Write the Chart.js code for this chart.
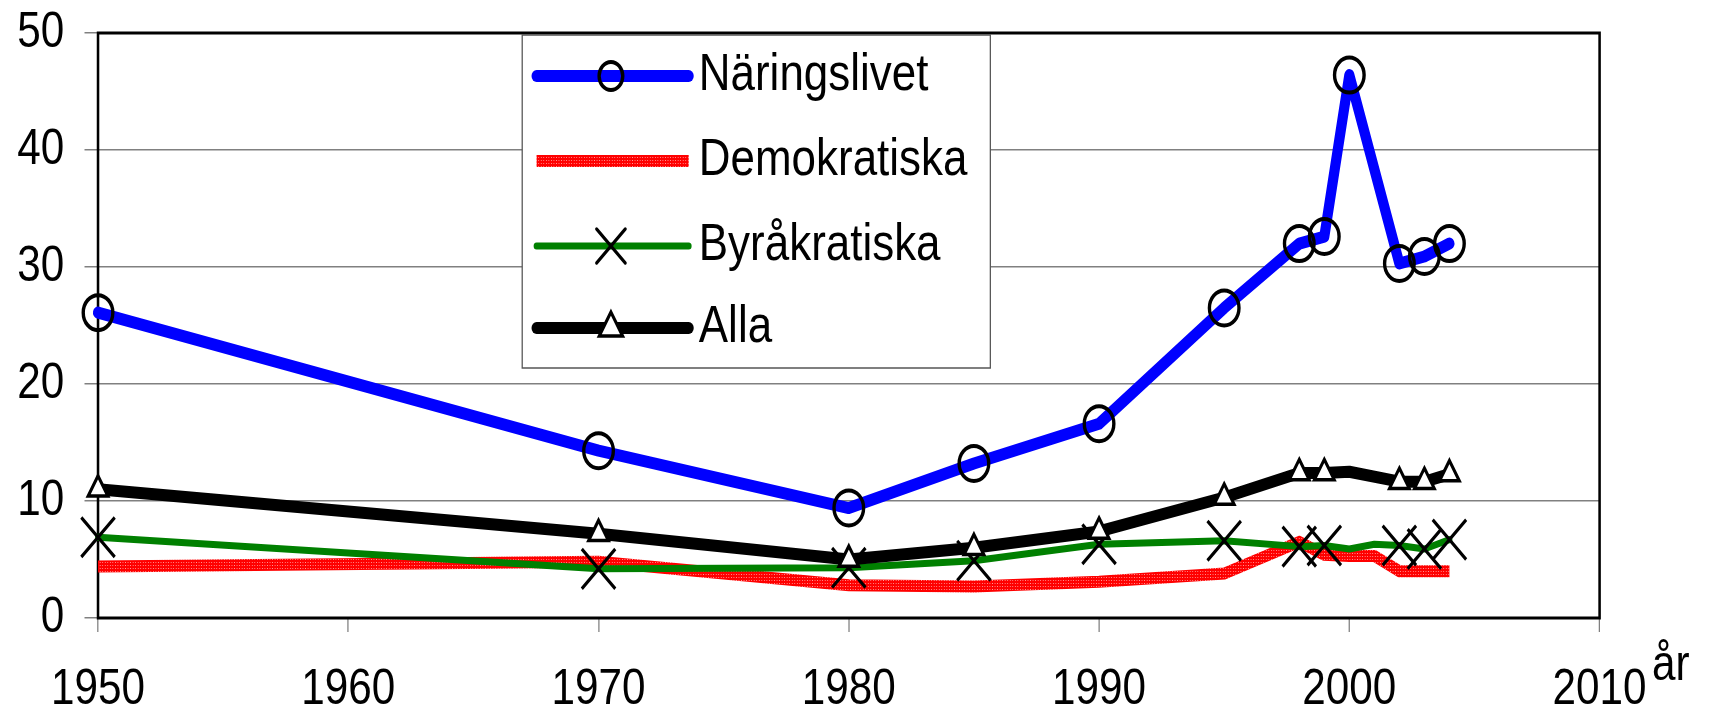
<!DOCTYPE html>
<html>
<head>
<meta charset="utf-8">
<script src="https://cdn.jsdelivr.net/npm/chart.js@4.4.1/dist/chart.umd.min.js"></script>
<style>
  html, body { margin: 0; padding: 0; background: #fff; overflow: hidden; }
  #wrap { width: 1712px; height: 715px; overflow: hidden; }
</style>
</head>
<body>
<div id="wrap"><canvas id="chart"></canvas></div>
<script>
// data
const years = [1950, 1970, 1980, 1985, 1990, 1995, 1998, 1999, 2000, 2001, 2002, 2003, 2004];
const naringslivet = [26.1, 14.3, 9.4, 13.2, 16.6, 26.5, 32.0, 32.6, 46.4, null, 30.3, 30.9, 32.0];
const demokratiska = [4.4, 4.8, 2.8, 2.7, 3.1, 3.8, 6.5, 5.4, 5.3, 5.3, 4.0, 4.0, 4.0];
const byrakratiska = [6.9, 4.2, 4.3, 4.9, 6.3, 6.6, 6.1, 6.2, 5.9, 6.3, 6.2, 5.9, 6.7];
const alla = [11.0, 7.2, 5.0, 6.0, 7.4, 10.3, 12.4, 12.4, 12.5, null, 11.65, 11.65, 12.3];
const seriesNames = ["Näringslivet", "Demokratiska", "Byråkratiska", "Alla"];
const noMarkerYears = [2000, 2001]; // points without marker for Alla / Byråkratiska
const xTicks = [1950, 1960, 1970, 1980, 1990, 2000, 2010];
const yTicks = [0, 10, 20, 30, 40, 50];
const xTitle = "år";

const FONT = '"Liberation Sans", Arial, sans-serif';
// the original picture is squeezed sideways: draw wider, then scale x
const SQUEEZE = 0.845;

var canvas = document.getElementById("chart");
canvas.width = Math.round(1712 / SQUEEZE);
canvas.height = 715;

function toPoints(vals) {
  return years.map((y, i) => ({ x: y, y: vals[i] }));
}

function redHatch() {
  var c = document.createElement("canvas");
  c.width = 3; c.height = 3;
  var g = c.getContext("2d");
  g.fillStyle = "#ff0000";
  g.fillRect(0, 0, 3, 3);
  g.fillStyle = "#ff9a9a";
  g.fillRect(1, 1, 1, 1);
  return g.createPattern(c, "repeat");
}

function markerRadius(r) {
  return function (ctx) {
    return noMarkerYears.indexOf(years[ctx.dataIndex]) >= 0 ? 0 : r;
  };
}

const squeeze = {
  id: "squeeze",
  beforeDraw(chart) {
    chart.ctx.save();
    chart.ctx.scale(SQUEEZE, 1);
  },
  afterDraw(chart) {
    chart.ctx.restore();
  }
};

// plot frame, drawn under the lines
const frame = {
  id: "frame",
  beforeDatasetsDraw(chart) {
    var ctx = chart.ctx, a = chart.chartArea;
    ctx.save();
    ctx.strokeStyle = "#000";
    ctx.lineWidth = 3;
    ctx.strokeRect(a.left, a.top, a.right - a.left, a.bottom - a.top);
    ctx.restore();
  }
};

// legend box inside the plot
const legendBox = {
  id: "legendBox",
  afterDatasetsDraw(chart) {
    var ctx = chart.ctx, a = chart.chartArea;
    var x0 = a.left + 502, y0 = a.top + 2, w = 554, h = 333;
    var rows = [43, 128, 213, 295];
    var markR = [14, 0, 24, 16];
    ctx.save();
    ctx.fillStyle = "#fff";
    ctx.fillRect(x0, y0, w, h);
    ctx.strokeStyle = "#555";
    ctx.lineWidth = 1.5;
    ctx.strokeRect(x0, y0, w, h);
    chart.data.datasets.forEach(function (ds, i) {
      var y = a.top + rows[i];
      ctx.beginPath();
      ctx.lineWidth = ds.borderWidth;
      ctx.strokeStyle = ds.borderColor;
      ctx.lineCap = ds.borderCapStyle || "round";
      ctx.moveTo(x0 + 17, y);
      ctx.lineTo(x0 + 197, y);
      ctx.stroke();
      if (markR[i] > 0) {
        ctx.fillStyle = ds.pointBackgroundColor;
        ctx.strokeStyle = ds.pointBorderColor;
        ctx.lineWidth = ds.pointBorderWidth;
        Chart.helpers.drawPoint(ctx, { pointStyle: ds.pointStyle, radius: markR[i], borderWidth: ds.pointBorderWidth, rotation: 0 }, x0 + 105, y);
      }
      ctx.fillStyle = "#000";
      ctx.font = "52px " + FONT;
      ctx.textAlign = "left";
      ctx.textBaseline = "alphabetic";
      ctx.fillText(ds.label, x0 + 209, y + 14);
    });
    ctx.restore();
  }
};

// "år" next to the last x label
const axisTitle = {
  id: "axisTitle",
  afterDraw(chart) {
    var ctx = chart.ctx, a = chart.chartArea;
    ctx.save();
    ctx.fillStyle = "#000";
    ctx.font = "50px " + FONT;
    ctx.textAlign = "left";
    ctx.textBaseline = "alphabetic";
    ctx.fillText(xTitle, a.right + 62, a.bottom + 62);
    ctx.restore();
  }
};

var hatch = redHatch();

var chart = new Chart(canvas, {
  type: "line",
  data: {
    datasets: [
      {
        label: seriesNames[0],
        data: toPoints(naringslivet),
        borderColor: "#0000ff",
        borderWidth: 12,
        borderJoinStyle: "round",
        borderCapStyle: "round",
        pointStyle: "circle",
        pointRadius: 17.5,
        pointBackgroundColor: "rgba(0,0,0,0)",
        pointBorderColor: "#000",
        pointBorderWidth: 4,
        spanGaps: true,
        clip: false,
        order: 0
      },
      {
        label: seriesNames[1],
        data: toPoints(demokratiska),
        borderColor: hatch,
        borderWidth: 12,
        borderJoinStyle: "miter",
        borderCapStyle: "butt",
        pointRadius: 0,
        spanGaps: true,
        clip: false,
        order: 3
      },
      {
        label: seriesNames[2],
        data: toPoints(byrakratiska),
        borderColor: "#008000",
        borderWidth: 7,
        borderJoinStyle: "round",
        borderCapStyle: "round",
        pointStyle: "crossRot",
        pointRadius: markerRadius(28),
        pointBackgroundColor: "rgba(0,0,0,0)",
        pointBorderColor: "#000",
        pointBorderWidth: 3.5,
        spanGaps: true,
        clip: false,
        order: 2
      },
      {
        label: seriesNames[3],
        data: toPoints(alla),
        borderColor: "#000",
        borderWidth: 12,
        borderJoinStyle: "round",
        borderCapStyle: "round",
        pointStyle: "triangle",
        pointRadius: markerRadius(13.5),
        pointBackgroundColor: "#fff",
        pointBorderColor: "#000",
        pointBorderWidth: 3.5,
        spanGaps: true,
        clip: false,
        order: 1
      }
    ]
  },
  options: {
    responsive: false,
    animation: false,
    events: [],
    layout: { padding: { top: 33, right: canvas.width - Math.round(1600 / SQUEEZE), left: 0, bottom: 0 } },
    plugins: {
      legend: { display: false },
      tooltip: { enabled: false }
    },
    elements: { line: { tension: 0 } },
    scales: {
      x: {
        type: "linear",
        min: 1950,
        max: 2010,
        afterBuildTicks: function (s) { s.ticks = xTicks.map(function (v) { return { value: v }; }); },
        afterFit: function (s) { s.height = 97; s.paddingLeft = 0; s.paddingRight = 0; },
        grid: { drawOnChartArea: false, tickLength: 14, color: "#808080", lineWidth: 1.5 },
        border: { display: false },
        ticks: {
          color: "#000",
          font: { family: FONT, size: 50 },
          padding: 28,
          maxRotation: 0,
          autoSkip: false,
          callback: function (v) { return String(v); }
        }
      },
      y: {
        min: 0,
        max: 50,
        afterBuildTicks: function (s) { s.ticks = yTicks.map(function (v) { return { value: v }; }); },
        afterFit: function (s) { s.width = Math.round(98 / SQUEEZE); s.paddingTop = 0; s.paddingBottom = 0; },
        grid: { tickLength: 16, color: "#808080", lineWidth: 1.5 },
        border: { display: false },
        ticks: {
          color: "#000",
          font: { family: FONT, size: 50 },
          padding: 24,
          callback: function (v) { return String(v); }
        }
      }
    }
  },
  plugins: [frame, legendBox, axisTitle, squeeze]
});
</script>
</body>
</html>
